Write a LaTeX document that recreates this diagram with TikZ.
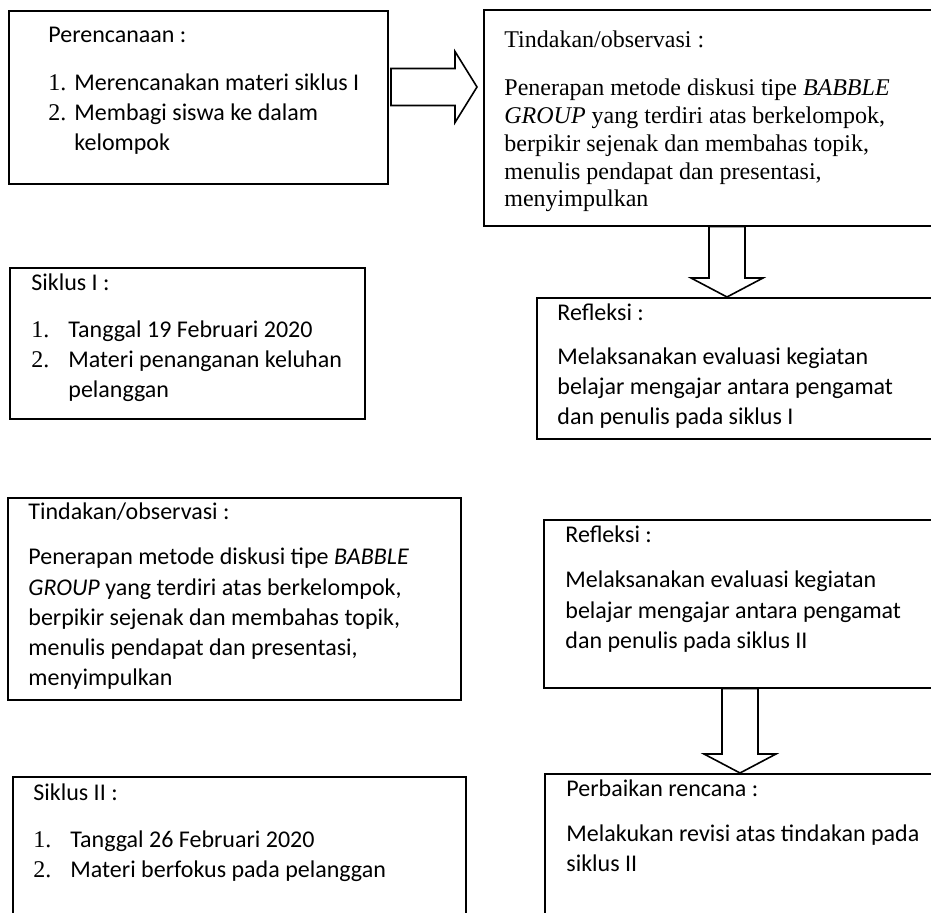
\documentclass[tikz,border=0pt]{standalone}
\usepackage{fontspec}
\setmainfont{Carlito}
\newfontfamily\timesfont{Liberation Serif}
\usetikzlibrary{calc}
\tikzset{
  box/.style={draw, line width=0.8pt, rectangle, inner sep=0pt, anchor=north west},
  txt/.style={anchor=base west, align=left, inner sep=0pt, font=\fontsize{12}{15}\selectfont},
  serif/.style={anchor=base west, align=left, inner sep=0pt, font=\timesfont\fontsize{12}{13.9}\selectfont},
  fatarrow/.style={draw, line width=0.8pt, fill=white, line join=miter}
}
\newcommand{\itemno}[2][13pt]{\makebox[#1][l]{\timesfont #2}}
\newcommand{\fatright}[2]{\draw[fatarrow] let \p1=(#1), \p2=(#2) in
  (\x1,\y1+9.25pt) -- (\x2-11pt,\y1+9.25pt) -- (\x2-11pt,\y1+17.75pt) -- (\x2,\y2)
  -- (\x2-11pt,\y1-17.75pt) -- (\x2-11pt,\y1-9.25pt) -- (\x1,\y1-9.25pt) -- cycle;}
\newcommand{\fatdown}[2]{\draw[fatarrow] let \p1=(#1), \p2=(#2) in
  (\x1-9pt,\y1) -- (\x1-9pt,\y2+9.5pt) -- (\x1-18pt,\y2+9.5pt) -- (\x2,\y2)
  -- (\x1+18pt,\y2+9.5pt) -- (\x1+9pt,\y2+9.5pt) -- (\x1+9pt,\y1) -- cycle;}
\begin{document}
\begin{tikzpicture}[x=0.5pt,y=-0.5pt]
	\useasboundingbox (0,0) rectangle (931,913);
	\fill[white] (0,0) rectangle (931,913);
	\clip (0,0) rectangle (931,913);
	% boxes
	\node[box, minimum width=189.5pt, minimum height=86.5pt] (plan) at (8,10) {};
	\node[box, minimum width=231pt, minimum height=108pt] (act1) at (483,9) {};
	\node[box, minimum width=204.5pt, minimum height=70.5pt] (refl1) at (536,297) {};
	\node[box, minimum width=177.5pt, minimum height=75.5pt] (cyc1) at (9,267) {};
	\node[box, minimum width=226.5pt, minimum height=101pt] (act2) at (7,497) {};
	\node[box, minimum width=201pt, minimum height=84pt] (refl2) at (543,519) {};
	\node[box, minimum width=200.5pt, minimum height=78.5pt] (fix) at (544,773) {};
	\node[box, minimum width=226.5pt, minimum height=77pt] (cyc2) at (12,776) {};
	% texts (placed at the baseline of their last line)
	\node[txt] (plantxt) at (48,151) {Perencanaan :\\[9pt]
		\itemno{1.}Merencanakan materi siklus I\\
		\itemno{2.}Membagi siswa ke dalam\\
		\hspace*{13pt}kelompok};
	\node[serif] (act1txt) at (504,207) {Tindakan/observasi :\\[10pt]
		Penerapan metode diskusi tipe \textit{BABBLE}\\
		\textit{GROUP} yang terdiri atas berkelompok,\\
		berpikir sejenak dan membahas topik,\\
		menulis pendapat dan presentasi,\\
		menyimpulkan};
	\node[txt] (refl1txt) at (557,425) {Refleksi :\\[7pt]
		Melaksanakan evaluasi kegiatan\\
		belajar mengajar antara pengamat\\
		dan penulis pada siklus I};
	\node[txt] (cyc1txt) at (31,398) {Siklus I :\\[8.5pt]
		\itemno[18.5pt]{1.}Tanggal 19 Februari 2020\\
		\itemno[18.5pt]{2.}Materi penanganan keluhan\\
		\hspace*{18.5pt}pelanggan};
	\node[txt] (act2txt) at (28,685) {Tindakan/observasi :\\[7.5pt]
		Penerapan metode diskusi tipe \textit{BABBLE}\\
		\textit{GROUP} yang terdiri atas berkelompok,\\
		berpikir sejenak dan membahas topik,\\
		menulis pendapat dan presentasi,\\
		menyimpulkan};
	\node[txt] (refl2txt) at (565,648) {Refleksi :\\[7.5pt]
		Melaksanakan evaluasi kegiatan\\
		belajar mengajar antara pengamat\\
		dan penulis pada siklus II};
	\node[txt] (fixtxt) at (566,871) {Perbaikan rencana :\\[7.5pt]
		Melakukan revisi atas tindakan pada\\
		siklus II};
	\node[txt] (cyc2txt) at (33,877) {Siklus II :\\[8.5pt]
		\itemno[18.5pt]{1.}Tanggal 26 Februari 2020\\
		\itemno[18.5pt]{2.}Materi berfokus pada pelanggan};
	% arrows
	\coordinate (ra) at (391,87);
	\coordinate (rb) at (477,87);
	\fatright{ra}{rb}
	\coordinate (da) at (727,0 |- act1.south);
	\coordinate (db) at (727,0 |- refl1.north);
	\fatdown{da}{db}
	\coordinate (dc) at (740,0 |- refl2.south);
	\coordinate (dd) at (740,0 |- fix.north);
	\fatdown{dc}{dd}
\end{tikzpicture}
\end{document}
